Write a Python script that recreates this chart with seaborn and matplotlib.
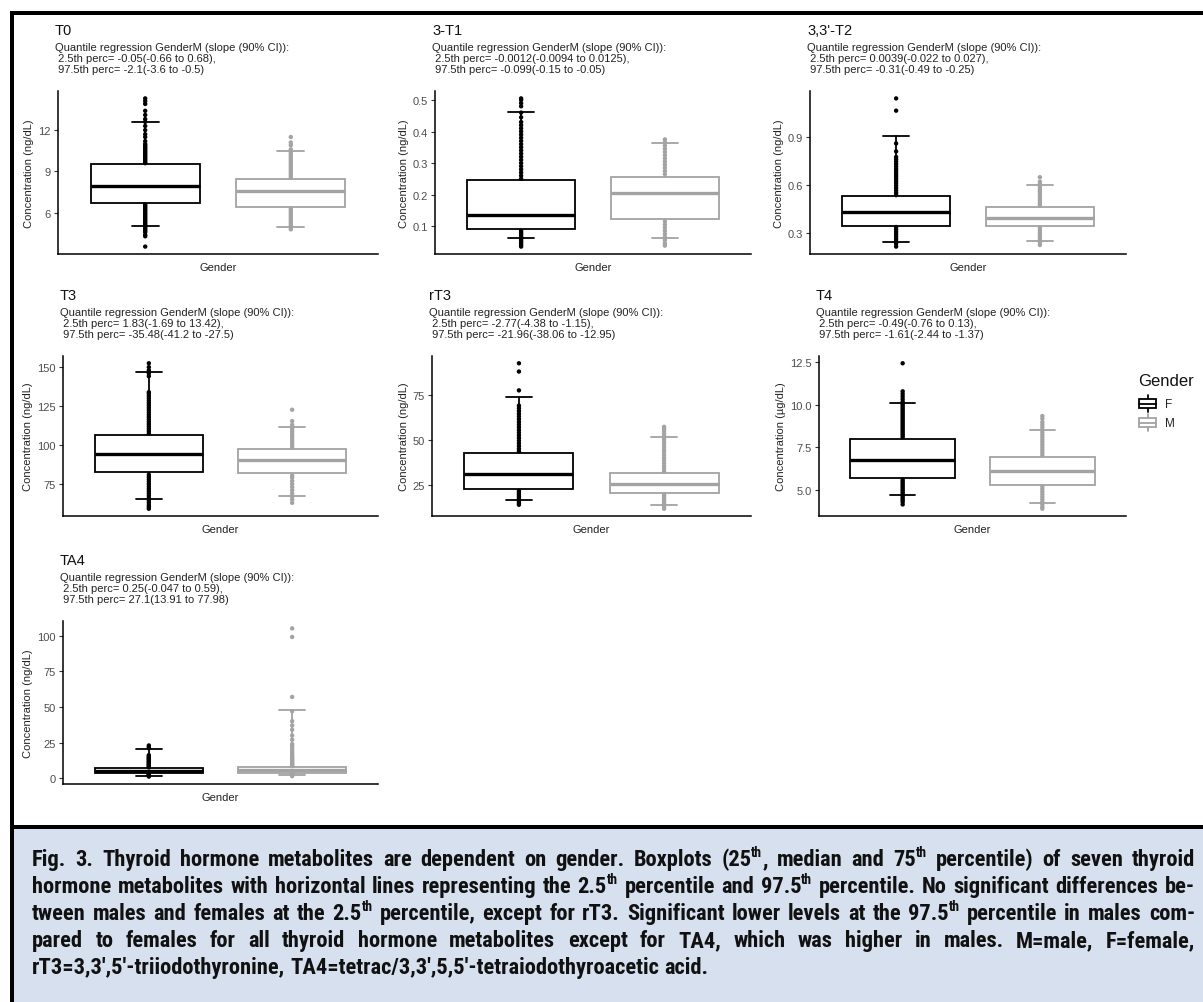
import re
import matplotlib
matplotlib.use("Agg")
import matplotlib.pyplot as plt
import pandas as pd
import seaborn as sns
from matplotlib import font_manager
from matplotlib.lines import Line2D
from matplotlib.patches import Rectangle
from matplotlib.legend_handler import HandlerBase

# ---------------- data ----------------
metabolites = ["T0", "3-T1", "3,3'-T2", "T3", "rT3", "T4", "TA4"]
y_labels = ["Concentration (ng/dL)"] * 5 + ["Concentration (µg/dL)", "Concentration (ng/dL)"]

subtitle_25 = [
    " 2.5th perc= -0.05(-0.66 to 0.68),",
    " 2.5th perc= -0.0012(-0.0094 to 0.0125),",
    " 2.5th perc= 0.0039(-0.022 to 0.027),",
    " 2.5th perc= 1.83(-1.69 to 13.42),",
    " 2.5th perc= -2.77(-4.38 to -1.15),",
    " 2.5th perc= -0.49(-0.76 to 0.13),",
    " 2.5th perc= 0.25(-0.047 to 0.59),",
]
subtitle_975 = [
    " 97.5th perc= -2.1(-3.6 to -0.5)",
    " 97.5th perc= -0.099(-0.15 to -0.05)",
    " 97.5th perc= -0.31(-0.49 to -0.25)",
    " 97.5th perc= -35.48(-41.2 to -27.5)",
    " 97.5th perc= -21.96(-38.06 to -12.95)",
    " 97.5th perc= -1.61(-2.44 to -1.37)",
    " 97.5th perc= 27.1(13.91 to 77.98)",
]

# [2.5th perc, 25th, median, 75th, 97.5th perc]
female_stats = [
    [5.05, 6.68, 7.96, 9.54, 12.56],
    [0.061, 0.09, 0.135, 0.245, 0.461],
    [0.243, 0.344, 0.428, 0.527, 0.908],
    [65.6, 82.5, 94.2, 106.3, 146.9],
    [16.5, 22.6, 31.0, 42.4, 73.7],
    [4.7, 5.72, 6.78, 8.0, 10.1],
    [1.9, 4.0, 5.3, 7.4, 20.8],
]
male_stats = [
    [5.0, 6.4, 7.55, 8.45, 10.5],
    [0.061, 0.121, 0.205, 0.257, 0.362],
    [0.25, 0.342, 0.39, 0.459, 0.596],
    [67.5, 82.1, 90.6, 97.3, 111.9],
    [13.6, 20.5, 25.5, 31.3, 51.6],
    [4.25, 5.32, 6.12, 6.95, 8.55],
    [2.3, 4.0, 6.0, 8.1, 47.9],
]

# observations outside the box
female_points = [
    [9.6, 9.7, 9.8, 9.9, 10.0, 10.1, 10.2, 10.3, 10.4, 10.5, 10.6, 10.7, 10.8, 10.9, 11.0,
     11.2, 11.5, 11.7, 12.0, 12.3, 12.6, 12.8, 13.1, 13.4, 13.9, 14.1, 14.3,
     6.6, 6.5, 6.4, 6.3, 6.2, 6.1, 6.0, 5.9, 5.8, 5.7, 5.6, 5.5, 5.4, 5.3, 5.2, 5.1,
     5.0, 4.9, 4.8, 4.7, 4.6, 4.4, 4.3, 3.55],
    [0.25, 0.26, 0.27, 0.28, 0.29, 0.30, 0.31, 0.32, 0.33, 0.34, 0.35, 0.36, 0.37, 0.38,
     0.39, 0.40, 0.41, 0.42, 0.43, 0.445, 0.46, 0.48, 0.49, 0.50, 0.505,
     0.085, 0.08, 0.075, 0.07, 0.065, 0.06, 0.055, 0.05, 0.045, 0.04, 0.035],
    [0.535, 0.55, 0.565, 0.58, 0.595, 0.61, 0.625, 0.64, 0.655, 0.67, 0.685, 0.70, 0.715,
     0.73, 0.745, 0.76, 0.775, 0.81, 0.86, 1.066, 1.143,
     0.335, 0.32, 0.305, 0.29, 0.275, 0.26, 0.245, 0.23, 0.212],
    [107.5, 109, 110.5, 112, 113.5, 115, 116.5, 118, 119.5, 121, 122.5, 124, 125.5, 127,
     128.5, 130, 131.5, 133, 134, 144.2, 146, 148, 150, 152.5,
     81, 79.5, 78, 76.5, 75, 73.5, 72, 70.5, 69, 67.5, 66, 64.5, 63, 61.5, 60.3, 59.2],
    [43.5, 45, 46.5, 48, 49.5, 51, 52.5, 54, 55.5, 57, 58.5, 60, 61.5, 63, 64.5, 66, 67.5,
     69, 77.5, 88, 92.6,
     21.5, 20.5, 19.5, 18.5, 17.5, 16.5, 15.5, 14.6, 13.8],
    [8.1, 8.2, 8.3, 8.4, 8.5, 8.6, 8.7, 8.8, 8.9, 9.0, 9.1, 9.2, 9.3, 9.4, 9.5, 9.6, 9.7,
     9.8, 9.9, 10.0, 10.1, 10.2, 10.35, 10.5, 10.65, 10.8, 12.45,
     5.6, 5.5, 5.4, 5.3, 5.2, 5.1, 5.0, 4.9, 4.8, 4.7, 4.6, 4.5, 4.4, 4.3, 4.15],
    [7.6, 8.2, 8.8, 9.4, 10.0, 10.6, 11.2, 11.8, 12.4, 13.0, 13.6, 14.2, 14.8, 15.4, 16.2,
     21, 22, 23,
     3.7, 3.3, 2.9, 2.5, 2.1, 1.7, 1.2],
]
male_points = [
    [8.55, 8.7, 8.85, 9.0, 9.15, 9.3, 9.45, 9.6, 9.75, 9.9, 10.05, 10.2, 10.35, 10.6, 10.9,
     11.1, 11.5,
     6.3, 6.15, 6.0, 5.85, 5.7, 5.55, 5.4, 5.25, 5.1, 4.95, 4.8],
    [0.265, 0.275, 0.285, 0.295, 0.305, 0.315, 0.325, 0.335, 0.345, 0.355, 0.365, 0.375,
     0.115, 0.105, 0.095, 0.085, 0.075, 0.065, 0.055, 0.045, 0.038],
    [0.47, 0.485, 0.50, 0.515, 0.53, 0.545, 0.56, 0.575, 0.59, 0.605, 0.62, 0.648,
     0.33, 0.315, 0.30, 0.285, 0.27, 0.255, 0.24, 0.222],
    [98.5, 100, 101.5, 103, 104.5, 106, 107.5, 109, 110.5, 113, 115.4, 122.7,
     80.5, 79, 77, 75, 73, 71, 69, 67, 65, 63],
    [32.5, 34, 35.5, 37, 38.5, 40, 41.5, 43, 44.5, 46, 47.5, 49, 50.5, 52, 53.5, 55, 56.2,
     57.2,
     19.5, 18.5, 17.5, 16.5, 15.5, 14.5, 13.5, 12.5, 11.6],
    [7.05, 7.2, 7.35, 7.5, 7.65, 7.8, 7.95, 8.1, 8.25, 8.4, 8.55, 8.7, 8.85, 9.0, 9.2, 9.35,
     5.2, 5.05, 4.9, 4.75, 4.6, 4.45, 4.3, 4.15, 4.0, 3.9],
    [8.5, 9.3, 10.1, 10.9, 11.7, 12.5, 13.3, 14.1, 15, 16, 17, 18.5, 20, 21.5, 23, 24, 27,
     30, 34, 37, 40, 47, 57, 99, 105,
     3.6, 3.2, 2.8, 2.4, 2.0, 1.5],
]

y_ticks = [[6, 9, 12], [0.1, 0.2, 0.3, 0.4, 0.5], [0.3, 0.6, 0.9], [75, 100, 125, 150],
           [25, 50, 75], [5.0, 7.5, 10.0, 12.5], [0, 25, 50, 75, 100]]
y_tick_labels = [["6", "9", "12"], ["0.1", "0.2", "0.3", "0.4", "0.5"], ["0.3", "0.6", "0.9"],
                 ["75", "100", "125", "150"], ["25", "50", "75"],
                 ["5.0", "7.5", "10.0", "12.5"], ["0", "25", "50", "75", "100"]]

caption_lines = [
    "Fig. 3. Thyroid hormone metabolites are dependent on gender. Boxplots (25^{th}, median and 75^{th} percentile) of seven thyroid",
    "hormone metabolites with horizontal lines representing the 2.5^{th} percentile and 97.5^{th} percentile. No significant differences be-",
    "tween males and females at the 2.5^{th} percentile, except for rT3. Significant lower levels at the 97.5^{th} percentile in males com-",
    "pared to females for all thyroid hormone metabolites except for TA4, which was higher in males. M=male, F=female,",
    "rT3=3,3\u2032,5\u2032-triiodothyronine, TA4=tetrac/3,3\u2032,5,5\u2032-tetraiodothyroacetic acid.",
]

# ---------------- style ----------------
sns.set_theme(style="ticks")
plt.rcParams["font.family"] = ["Liberation Sans", "DejaVu Sans"]
plt.rcParams["axes.linewidth"] = 1.1
plt.rcParams["axes.edgecolor"] = "black"

W, H = 1203, 1003
fig = plt.figure(figsize=(W / 100, H / 100), dpi=100, facecolor="white")


def fx(x):
    return x / W


def fy(y):
    return 1 - y / H


colors = {"F": "black", "M": "#a3a3a3"}
group_pos = {"F": 0.727, "M": 1.273}

# panel rectangles in pixels: left, right, top, bottom
panel_box = [(58, 378, 92, 255), (435, 751, 92, 255), (810, 1126, 92, 255),
             (63, 378, 357, 517), (432, 751, 357, 517), (819, 1126, 357, 517),
             (63, 378, 622, 785)]

for i, name in enumerate(metabolites):
    left, right, top, bottom = panel_box[i]
    ax = fig.add_axes([fx(left), fy(bottom), (right - left) / W, (bottom - top) / H])

    stats = []
    for s in (female_stats[i], male_stats[i]):
        stats.append(dict(whislo=s[0], q1=s[1], med=s[2], q3=s[3], whishi=s[4], fliers=[]))
    art = ax.bxp(stats, positions=[group_pos["F"], group_pos["M"]], widths=0.41,
                 capwidths=0.1, patch_artist=True, showfliers=False, manage_ticks=False)
    for k, g in enumerate(["F", "M"]):
        c = colors[g]
        art["boxes"][k].set(facecolor="white", edgecolor=c, linewidth=1.3, zorder=2)
        art["medians"][k].set(color=c, linewidth=2.4, zorder=2.5, solid_capstyle="butt")
        for ln in art["whiskers"][2 * k:2 * k + 2] + art["caps"][2 * k:2 * k + 2]:
            ln.set(color=c, linewidth=1.3, zorder=1.5)

    pts = pd.DataFrame({
        "Gender": ["F"] * len(female_points[i]) + ["M"] * len(male_points[i]),
        "value": female_points[i] + male_points[i],
    })
    pts["pos"] = pts["Gender"].map(group_pos)
    sns.scatterplot(data=pts, x="pos", y="value", hue="Gender", palette=colors, s=10,
                    linewidth=0, legend=False, ax=ax, zorder=3)

    allv = pts["value"].tolist() + female_stats[i] + male_stats[i]
    lo, hi = min(allv), max(allv)
    pad = (hi - lo) * 0.05
    ax.set_ylim(lo - pad, hi + pad)
    ax.set_xlim(0.4, 1.6)

    ax.set_xticks([])
    ax.set_yticks(y_ticks[i])
    ax.set_yticklabels(y_tick_labels[i])
    ax.tick_params(axis="y", length=3, width=0.8, color="#333333", labelcolor="#4d4d4d",
                   labelsize=8, pad=2)
    ax.set_xlabel("Gender", fontsize=8, labelpad=6, color="#222222")
    ax.set_ylabel(y_labels[i], fontsize=8, labelpad=3, color="#222222")
    sns.despine(ax=ax)
    ax.set_facecolor("white")

    fig.text(fx(left - 3), fy(top - 61), name, fontsize=10.5, va="center", ha="left",
             color="#111111")
    fig.text(fx(left - 3), fy(top - 44), "Quantile regression GenderM (slope (90% CI)):",
             fontsize=8, va="center", ha="left", color="#222222")
    fig.text(fx(left - 3), fy(top - 33), subtitle_25[i], fontsize=8, va="center",
             ha="left", color="#222222")
    fig.text(fx(left - 3), fy(top - 22), subtitle_975[i], fontsize=8, va="center",
             ha="left", color="#222222")


# legend with boxplot key glyphs
class BoxKey(HandlerBase):
    def create_artists(self, legend, orig_handle, xdescent, ydescent, width, height,
                       fontsize, trans):
        c = orig_handle.get_color()
        x0, y0 = -xdescent, -ydescent
        box = Rectangle((x0 + 0.1 * width, y0 + 0.25 * height), 0.8 * width, 0.5 * height,
                        facecolor="white", edgecolor=c, linewidth=1.3, transform=trans)
        mid = Line2D([x0 + 0.1 * width, x0 + 0.9 * width], [y0 + 0.5 * height] * 2,
                     color=c, linewidth=1.3, transform=trans)
        up = Line2D([x0 + 0.5 * width] * 2, [y0 + 0.75 * height, y0 + 0.94 * height],
                    color=c, linewidth=1.3, transform=trans)
        dn = Line2D([x0 + 0.5 * width] * 2, [y0 + 0.06 * height, y0 + 0.25 * height],
                    color=c, linewidth=1.3, transform=trans)
        return [up, dn, box, mid]


fig.text(fx(1138), fy(382), "Gender", fontsize=12, va="center", ha="left", color="#111111")
handles = [Line2D([], [], color=colors["F"]), Line2D([], [], color=colors["M"])]
leg = fig.legend(handles, ["F", "M"], handler_map={Line2D: BoxKey()},
                 fontsize=8.5, loc="upper left",
                 bbox_to_anchor=(fx(1137), fy(395)), frameon=False,
                 handlelength=1.8, handleheight=2.1, labelspacing=0.0, handletextpad=0.6,
                 borderpad=0, borderaxespad=0)

# frame and caption panel
fig.add_artist(Rectangle((fx(14), 0), 1 - fx(14), fy(829.5), transform=fig.transFigure,
                         facecolor="#d6e0ee", edgecolor="none", zorder=0))
for (x0, x1, y0, y1) in [(10, 14, 12, 1003), (10, 1203, 12, 15.5), (10, 1203, 826, 829.5)]:
    fig.add_artist(Rectangle((fx(x0), fy(y1)), (x1 - x0) / W, (y1 - y0) / H,
                             transform=fig.transFigure, facecolor="black",
                             edgecolor="none", zorder=5))


def has_font(name):
    try:
        font_manager.findfont(font_manager.FontProperties(family=name),
                              fallback_to_default=False)
        return True
    except ValueError:
        return False


cap_family = "DejaVu Sans"
for cand in ["Liberation Sans Narrow", "Roboto Condensed", "DejaVu Sans Condensed"]:
    if has_font(cand):
        cap_family = cand
        break

renderer = fig.canvas.get_renderer()


def cap_prop(size):
    return font_manager.FontProperties(family=[cap_family, "DejaVu Sans"], weight="bold",
                                       size=size)


def split_word(word):
    parts = re.split(r"\^\{(.*?)\}", word)
    return [(p, k % 2 == 1) for k, p in enumerate(parts) if p]


def word_width(word, size):
    w = 0
    for seg, sup in split_word(word):
        prop = cap_prop(size * 0.62 if sup else size)
        w += renderer.get_text_width_height_descent(seg, prop, ismath=False)[0]
    return w


x_left, x_right = 32, 1195
target = x_right - x_left
base = 15.0
space = renderer.get_text_width_height_descent("a a", cap_prop(base), ismath=False)[0] - \
    renderer.get_text_width_height_descent("aa", cap_prop(base), ismath=False)[0]
natural = [sum(word_width(w, base) for w in ln.split()) + space * (len(ln.split()) - 1)
           for ln in caption_lines[:-1]]
size = base * min(target / n for n in natural) * 0.985
size_px = size * 100 / 72
space = space * size / base

baselines = [866, 893, 920, 947, 974]
for li, line in enumerate(caption_lines):
    words = line.split()
    widths = [word_width(w, size) for w in words]
    if li < len(caption_lines) - 1:
        gap = (target - sum(widths)) / (len(words) - 1)
    else:
        gap = space
    x = x_left
    for w, wd in zip(words, widths):
        cx = x
        for seg, sup in split_word(w):
            s = size * 0.62 if sup else size
            yb = baselines[li] - (0.42 * size_px if sup else 0)
            fig.text(fx(cx), fy(yb), seg, fontproperties=cap_prop(s), va="baseline",
                     ha="left", color="#111111", zorder=6)
            cx += renderer.get_text_width_height_descent(seg, cap_prop(s), ismath=False)[0]
        x += wd + gap

fig.savefig("out.png", dpi=100, facecolor="white")
